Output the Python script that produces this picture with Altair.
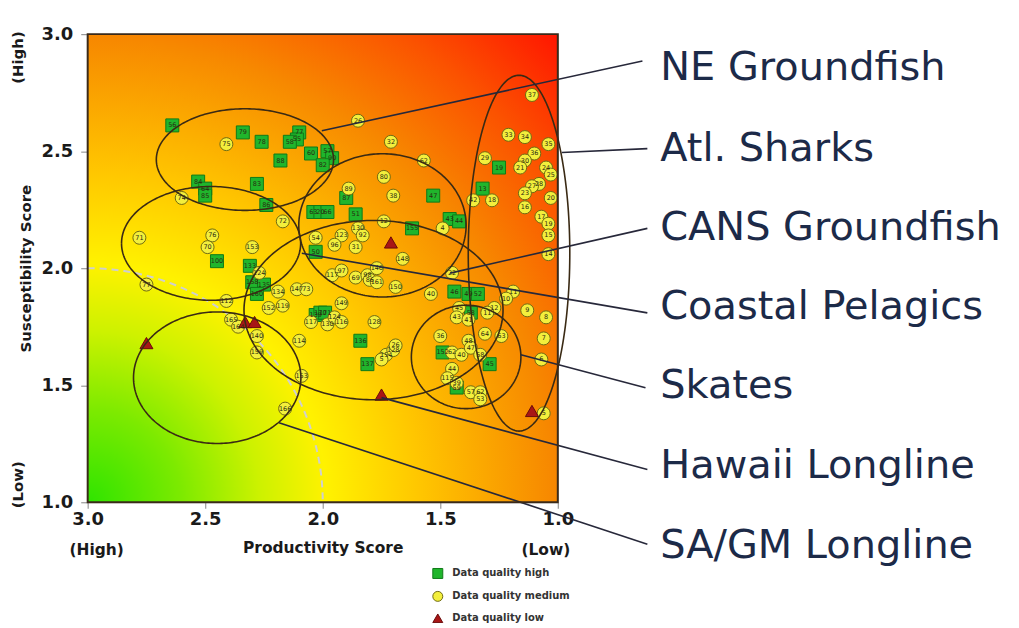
import numpy as np
import pandas as pd
import altair as alt

# ---------------- data ----------------
# Data quality high (green squares)
high_x = [2.64, 2.34, 2.26, 2.10, 2.11, 2.14, 2.18, 2.05, 1.98, 1.96, 2.00, 2.28, 2.53, 2.50, 2.50,
          2.24, 2.04, 2.01, 1.98, 1.86, 1.90, 2.03, 1.53, 1.32, 1.25, 1.62, 1.46, 1.42, 2.45, 2.31,
          2.30, 2.25, 2.28, 2.03, 2.01, 1.99, 1.84, 1.81, 1.44, 1.38, 1.34, 1.49, 1.29, 1.37, 1.43]
high_y = [2.61, 2.58, 2.54, 2.58, 2.55, 2.54, 2.46, 2.49, 2.50, 2.47, 2.44, 2.36, 2.37, 2.34, 2.31,
          2.27, 2.24, 2.24, 2.24, 2.23, 2.30, 2.07, 2.31, 2.34, 2.43, 2.17, 2.21, 2.20, 2.03, 2.01,
          1.94, 1.93, 1.89, 1.80, 1.81, 1.81, 1.69, 1.59, 1.90, 1.89, 1.89, 1.64, 1.59, 1.81, 1.49]
high_lab = ["56", "79", "78", "77", "55", "58", "88", "60", "57", "90", "82", "83", "84", "64", "85",
            "86", "63", "20", "66", "51", "87", "50", "47", "13", "19", "155", "43", "44", "100", "133",
            "158", "135", "160", "139", "170", "171", "136", "137", "46", "49", "52", "152", "45", "58", "59"]

# Data quality medium (yellow circles)
med_x = [1.85, 1.71, 2.41, 1.57, 1.74, 1.89, 1.70, 1.11, 1.21, 1.14, 1.04, 1.31, 1.10, 1.14, 1.16,
         1.05, 1.03, 1.08, 1.11, 1.14, 1.03, 1.14, 1.07, 1.04, 1.04, 1.04, 1.36, 1.28, 1.49, 2.60,
         2.17, 1.74, 1.85, 1.83, 2.03, 1.92, 1.95, 1.86, 2.30, 2.78, 2.47, 2.49, 2.75, 2.41, 2.39,
         2.36, 2.27, 1.96, 1.92, 1.86, 1.81, 1.77, 1.80, 1.77, 1.66, 1.69, 1.45, 1.54, 2.19, 2.11,
         2.07, 2.23, 2.17, 1.92, 2.05, 1.98, 1.95, 1.92, 1.78, 2.10, 2.28, 2.28, 2.09, 2.16, 1.73,
         1.75, 1.70, 1.19, 1.22, 1.13, 1.05, 1.27, 1.30, 1.42, 1.43, 1.38, 1.50, 1.38, 1.31, 1.24,
         1.06, 1.07, 1.69, 1.45, 1.41, 1.37, 1.33, 1.45, 1.47, 1.43, 1.37, 1.33, 1.33, 1.06]
med_y = [2.63, 2.54, 2.53, 2.46, 2.39, 2.34, 2.31, 2.74, 2.57, 2.56, 2.53, 2.47, 2.49, 2.46, 2.43,
         2.43, 2.40, 2.36, 2.35, 2.32, 2.30, 2.26, 2.22, 2.19, 2.14, 2.06, 2.29, 2.29, 2.17, 2.30,
         2.20, 2.20, 2.17, 2.14, 2.13, 2.14, 2.10, 2.09, 2.09, 2.13, 2.14, 2.09, 1.93, 1.86, 1.78,
         1.75, 1.98, 1.97, 1.99, 1.96, 1.97, 2.00, 1.95, 1.94, 2.04, 1.92, 1.98, 1.89, 1.90, 1.91,
         1.91, 1.83, 1.84, 1.85, 1.77, 1.76, 1.79, 1.77, 1.77, 1.69, 1.71, 1.64, 1.54, 1.40, 1.63,
         1.61, 1.65, 1.90, 1.87, 1.82, 1.79, 1.83, 1.81, 1.83, 1.79, 1.78, 1.71, 1.69, 1.72, 1.71,
         1.70, 1.61, 1.67, 1.64, 1.63, 1.66, 1.63, 1.57, 1.53, 1.51, 1.47, 1.47, 1.44, 1.38]
med_lab = ["26", "32", "75", "62", "80", "89", "38", "37", "33", "34", "35", "29", "36", "30", "21",
           "24", "25", "28", "27", "23", "20", "16", "17", "19", "15", "14", "42", "18", "4", "74",
           "72", "12", "130", "92", "54", "123", "96", "31", "153", "71", "76", "70", "77", "112", "165",
           "164", "124", "117", "97", "69", "98", "146", "86", "161", "148", "150", "22", "40", "134", "147",
           "73", "152", "119", "149", "117", "130", "124", "116", "128", "114", "140", "159", "153", "166", "154",
           "5", "128", "11", "10", "9", "8", "12", "11", "45", "43", "41", "36", "48", "64", "63",
           "7", "6", "26", "62", "40", "47", "58", "44", "115", "39", "57", "62", "53", "5"]

# Data quality low (dark red triangles)
low_x = [2.75, 2.33, 2.29, 1.71, 1.75, 1.11]
low_y = [1.68, 1.77, 1.77, 2.11, 1.46, 1.39]

qual_names = ["Data quality high", "Data quality medium", "Data quality low"]

# Fishery groups: ellipses (centre, radii in score units), leader lines and labels
groups = ["NE Groundfish", "Atl. Sharks", "CANS Groundfish", "Coastal Pelagics",
          "Skates", "Hawaii Longline", "SA/GM Longline"]
ell_cx = [2.331, 1.165, 1.746, 2.475, 1.390, 1.784, 2.449]
ell_cy = [2.464, 2.064, 2.183, 2.106, 1.621, 1.821, 1.532]
ell_rx = [0.377, 0.216, 0.356, 0.381, 0.233, 0.551, 0.356]
ell_ry = [0.217, 0.760, 0.306, 0.243, 0.221, 0.383, 0.281]
lead_x1 = [2.004, 0.983, 1.458, 2.089, 1.157, 1.750, 2.186]
lead_y1 = [2.587, 2.494, 1.979, 2.064, 1.630, 1.447, 1.340]
lead_x2 = [0.640, 0.619, 0.619, 0.619, 0.627, 0.619, 0.619]
lead_y2 = [2.885, 2.511, 2.170, 1.809, 1.489, 1.140, 0.821]
label_x = [0.564] * 7
label_y = [2.855, 2.511, 2.170, 1.834, 1.498, 1.153, 0.813]

# axis extent and extra axis annotations
x_domain = [3.0, 1.0]
y_domain = [1.0, 3.0]
tick_vals = [3.0, 2.5, 2.0, 1.5, 1.0]
extra_txt = ["(High)", "(Low)"]
extra_x_pos = [2.962, 1.051]
extra_x_y = [0.797, 0.797]
extra_y_x = [3.297, 3.297]
extra_y_pos = [2.900, 1.075]

# reference quarter circle (centre 3,1 radius 1)
arc_cx, arc_cy, arc_r = 3.0, 1.0, 1.0

# ---------------- frames ----------------
pts = pd.DataFrame({
    "x": high_x + med_x + low_x,
    "y": high_y + med_y + low_y,
    "label": high_lab + med_lab + [""] * len(low_x),
    "quality": [qual_names[0]] * len(high_x) + [qual_names[1]] * len(med_x) + [qual_names[2]] * len(low_x),
})

theta = np.linspace(0, 2 * np.pi, 241)
ell_rows = []
for g, cx, cy, rx, ry in zip(groups, ell_cx, ell_cy, ell_rx, ell_ry):
    for i, t in enumerate(theta):
        ell_rows.append({"group": g, "i": i, "x": cx + rx * np.cos(t), "y": cy + ry * np.sin(t)})
ell_df = pd.DataFrame(ell_rows)

phi = np.linspace(0, np.pi / 2, 91)
arc_df = pd.DataFrame({"i": np.arange(len(phi)),
                       "x": arc_cx - arc_r * np.sin(phi),
                       "y": arc_cy + arc_r * np.cos(phi)})

lead_df = pd.DataFrame({"x": lead_x1, "y": lead_y1, "x2": lead_x2, "y2": lead_y2, "group": groups})
lab_df = pd.DataFrame({"x": label_x, "y": label_y, "text": groups})
bg_df = pd.DataFrame({"x": [x_domain[0]], "x2": [x_domain[1]], "y": [y_domain[0]], "y2": [y_domain[1]]})
xt_df = pd.DataFrame({"x": extra_x_pos, "y": extra_x_y, "text": extra_txt})
yt_df = pd.DataFrame({"x": extra_y_x, "y": extra_y_pos, "text": extra_txt})

# ---------------- encodings ----------------
FONT = "DejaVu Sans"
xs = alt.Scale(domain=x_domain, nice=False, zero=False)
ys = alt.Scale(domain=y_domain, nice=False, zero=False)
xaxis = alt.Axis(values=tick_vals, format=".1f", title="Productivity Score", grid=False, domain=False,
                 tickSize=6, tickColor="#9a9a9a", tickWidth=1.2, labelFont=FONT, labelFontSize=18,
                 labelFontWeight="bold", labelColor="#1a1a1a", labelPadding=2, labelFlush=False,
                 labelOverlap=False, labelBound=False,
                 titleFont=FONT, titleFontSize=15.5, titleFontWeight="bold", titleColor="#1a1a1a",
                 titlePadding=12)
yaxis = alt.Axis(values=tick_vals, format=".1f", title="Susceptibility Score", grid=False, domain=False,
                 tickSize=7, tickColor="#9a9a9a", tickWidth=1.2, labelFont=FONT, labelFontSize=18,
                 labelFontWeight="bold", labelColor="#1a1a1a", labelPadding=8, labelFlush=False,
                 labelOverlap=False, labelBound=False,
                 titleFont=FONT, titleFontSize=15, titleFontWeight="bold", titleColor="#1a1a1a",
                 titlePadding=8)


def X(field="x"):
    return alt.X(f"{field}:Q", scale=xs, axis=xaxis)


def Y(field="y"):
    return alt.Y(f"{field}:Q", scale=ys, axis=yaxis)


gradient = {
    "gradient": "radial",
    "x1": 0, "y1": 1, "r1": 0,
    "x2": 0, "y2": 1, "r2": 1.414,
    "stops": [
        {"offset": 0.0, "color": "#2ee400"},
        {"offset": 0.14, "color": "#7cea00"},
        {"offset": 0.26, "color": "#cdf200"},
        {"offset": 0.36, "color": "#fff200"},
        {"offset": 0.50, "color": "#ffc600"},
        {"offset": 0.70, "color": "#f78800"},
        {"offset": 0.85, "color": "#fb5200"},
        {"offset": 1.0, "color": "#ff1500"},
    ],
}

bg = alt.Chart(bg_df).mark_rect(fill=gradient, stroke=None).encode(
    x=X(), x2="x2", y=Y(), y2="y2")

arc = alt.Chart(arc_df).mark_line(color="#cfcfcf", strokeWidth=2, strokeDash=[7, 5]).encode(
    x=X(), y=Y(), order="i:Q")

legend = alt.Legend(title=None, orient="none", legendX=346, legendY=536, padding=0,
                    labelFont=FONT, labelFontSize=10, labelFontWeight="bold", labelColor="#333333",
                    rowPadding=8, labelOffset=9, symbolStrokeWidth=1)

points = alt.Chart(pts).mark_point(filled=True, opacity=1, size=170, strokeWidth=1).encode(
    x=X(), y=Y(),
    shape=alt.Shape("quality:N", scale=alt.Scale(domain=qual_names, range=["square", "circle", "triangle-up"]),
                    legend=legend),
    fill=alt.Fill("quality:N", scale=alt.Scale(domain=qual_names, range=["#20b52c", "#f3ef3c", "#a81616"]),
                  legend=legend),
    stroke=alt.Stroke("quality:N", scale=alt.Scale(domain=qual_names, range=["#0f7a18", "#6f6a12", "#6a0a0a"]),
                      legend=legend),
)

pt_text = alt.Chart(pts).mark_text(font=FONT, fontSize=6.5, color="#2a2a10").encode(
    x=X(), y=Y(), text="label:N")

ellipses = alt.Chart(ell_df).mark_line(color="#3a2a14", strokeWidth=1.6).encode(
    x=X(), y=Y(), detail="group:N", order="i:Q")

leaders = alt.Chart(lead_df).mark_rule(color="#27283a", strokeWidth=1.6).encode(
    x=X(), y=Y(), x2="x2", y2="y2")

labels = alt.Chart(lab_df).mark_text(align="left", baseline="middle", font=FONT, fontSize=40,
                                     color="#1c2a48").encode(x=X(), y=Y(), text="text:N")

frame = alt.Chart(bg_df).mark_rect(filled=False, stroke="#3a2a1a", strokeWidth=2).encode(
    x=X(), x2="x2", y=Y(), y2="y2")

xt = alt.Chart(xt_df).mark_text(font=FONT, fontSize=15.5, fontWeight="bold", color="#1a1a1a",
                                baseline="middle").encode(x=X(), y=Y(), text="text:N")
yt = alt.Chart(yt_df).mark_text(font=FONT, fontSize=15, fontWeight="bold", color="#1a1a1a",
                                baseline="middle", angle=270).encode(x=X(), y=Y(), text="text:N")

chart = alt.layer(bg, arc, points, pt_text, ellipses, leaders, labels, frame, xt, yt).properties(
    width=472, height=470,
    padding={"left": 80, "top": 25, "right": 455, "bottom": 120},
    autosize=alt.AutoSizeParams(type="none"),
).configure_view(stroke=None).configure(background="white")

chart.save("out.html", embed_options={"renderer": "svg", "actions": False})
